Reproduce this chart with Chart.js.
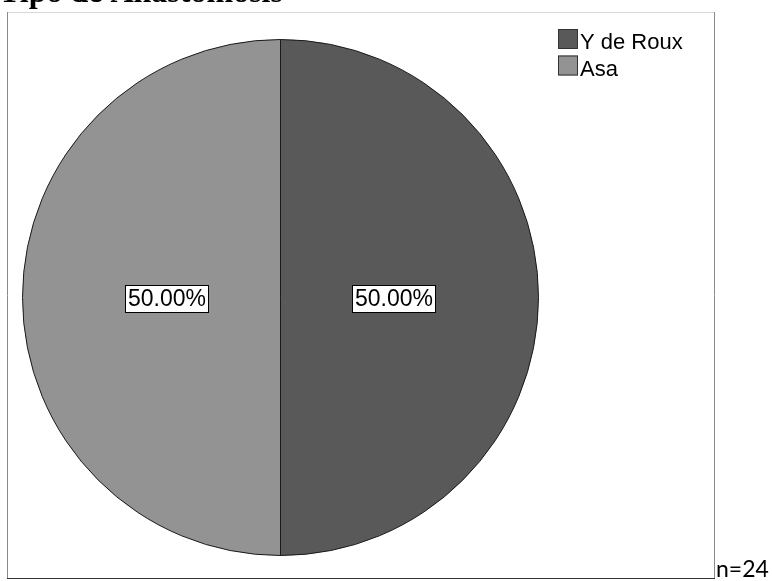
<!DOCTYPE html>
<html>
<head>
<meta charset="utf-8">
<script src="https://cdn.jsdelivr.net/npm/chart.js"></script>
<style>
  html, body { margin: 0; padding: 0; background: #fff; }
  #wrap { width: 772px; height: 581px; position: relative; }
</style>
</head>
<body>
<div id="wrap"><canvas id="pie" width="772" height="581"></canvas></div>
<script>
// Datos del gráfico
const categorias = ['Y de Roux', 'Asa'];
const valores = [12, 12];
const colores = ['#595959', '#939393'];
const titulo = 'Tipo de Anastomosis';
const total = 'n=24';

// Marco, título y texto de n
const marcoPlugin = {
    id: 'marco',
    beforeDraw(chart) {
        const ctx = chart.ctx;
        ctx.save();
        ctx.fillStyle = '#fff';
        ctx.fillRect(0, 0, chart.width, chart.height);
        ctx.lineWidth = 1;
        ctx.strokeStyle = '#d9d9d9';
        ctx.beginPath(); ctx.moveTo(7, 12.5); ctx.lineTo(715, 12.5); ctx.stroke();
        ctx.strokeStyle = '#8a8a8a';
        ctx.beginPath(); ctx.moveTo(7.5, 12); ctx.lineTo(7.5, 579); ctx.stroke();
        ctx.beginPath(); ctx.moveTo(714.5, 12); ctx.lineTo(714.5, 579); ctx.stroke();
        ctx.strokeStyle = '#333';
        ctx.beginPath(); ctx.moveTo(7, 578.5); ctx.lineTo(715, 578.5); ctx.stroke();

        ctx.fillStyle = '#000';
        ctx.font = 'bold 32px "Liberation Serif"';
        ctx.textBaseline = 'alphabetic';
        ctx.textAlign = 'left';
        ctx.fillText(titulo, -1, 2);

        ctx.font = '23px Lato';
        ctx.fillText(total, 716, 577);
        ctx.restore();
    }
};

// Etiquetas de porcentaje con caja blanca
const etiquetasPlugin = {
    id: 'etiquetas',
    afterDatasetsDraw(chart) {
        const ctx = chart.ctx;
        const meta = chart.getDatasetMeta(0);
        const data = chart.data.datasets[0].data;
        const suma = data.reduce((a, b) => a + b, 0);
        ctx.save();
        ctx.font = '23px "Liberation Sans"';
        ctx.textAlign = 'center';
        ctx.textBaseline = 'middle';
        meta.data.forEach((arc, i) => {
            const p = arc.getProps(['x', 'y', 'startAngle', 'endAngle', 'outerRadius']);
            const mid = (p.startAngle + p.endAngle) / 2;
            const r = p.outerRadius * 0.44;
            const x = p.x + Math.cos(mid) * r;
            const y = p.y + Math.sin(mid) * r + 1.5;
            const texto = (data[i] / suma * 100).toFixed(2) + '%';
            const w = ctx.measureText(texto).width + 6;
            const h = 28;
            ctx.fillStyle = '#fff';
            ctx.fillRect(Math.round(x - w / 2), Math.round(y - h / 2), Math.round(w), h);
            ctx.strokeStyle = '#000';
            ctx.lineWidth = 1;
            ctx.strokeRect(Math.round(x - w / 2) + 0.5, Math.round(y - h / 2) + 0.5, Math.round(w) - 1, h - 1);
            ctx.fillStyle = '#000';
            ctx.fillText(texto, x, y + 1);
        });
        ctx.restore();
    }
};

// Leyenda a la derecha
const leyendaPlugin = {
    id: 'leyenda',
    afterDraw(chart) {
        const ctx = chart.ctx;
        const ds = chart.data.datasets[0];
        ctx.save();
        ctx.font = '22px "Liberation Sans"';
        ctx.textAlign = 'left';
        ctx.textBaseline = 'alphabetic';
        chart.data.labels.forEach((label, i) => {
            const y = 29 + i * 26.5;
            ctx.fillStyle = ds.backgroundColor[i];
            ctx.fillRect(558, y, 20, 20);
            ctx.strokeStyle = '#333';
            ctx.lineWidth = 1;
            ctx.strokeRect(558.5, y + 0.5, 19, 19);
            ctx.fillStyle = '#000';
            ctx.fillText(label, 580, y + 20);
        });
        ctx.restore();
    }
};

new Chart(document.getElementById('pie'), {
    type: 'pie',
    data: {
        labels: categorias,
        datasets: [{
            data: valores,
            backgroundColor: colores,
            borderColor: '#1a1a1a',
            borderWidth: 1
        }]
    },
    options: {
        responsive: false,
        animation: false,
        layout: { padding: { left: 22, top: 39, right: 233, bottom: 25 } },
        plugins: {
            legend: { display: false },
            tooltip: { enabled: false }
        }
    },
    plugins: [marcoPlugin, etiquetasPlugin, leyendaPlugin]
});
</script>
</body>
</html>
